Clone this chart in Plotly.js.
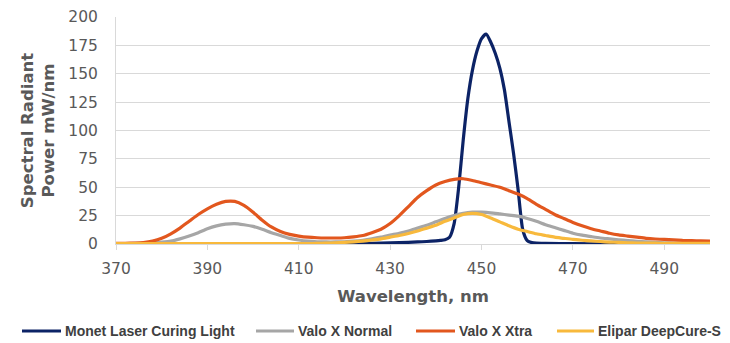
<!DOCTYPE html>
<html>
<head>
<meta charset="utf-8">
<script src="https://cdn.plot.ly/plotly-3.0.1.min.js"></script>
<style>html,body{margin:0;padding:0;background:#fff;}#chart{width:730px;height:343px;}</style>
</head>
<body>
<div id="chart"></div>
<script>
// Wavelength grid (nm) for the broad-band lights
const wavelength = [370,372,374,376,378,380,382,384,386,388,390,392,394,396,398,400,402,404,406,408,410,412,414,416,418,420,422,424,426,428,430,432,434,436,438,440,442,444,446,448,450,452,454,456,458,460,462,464,466,468,470,472,474,476,478,480,482,484,486,488,490,492,494,496,498,500];

const valoXtra = [0.5,0.6,0.8,1.2,2.5,5,9,14,20,26,31,35,37.5,37.5,34,28,21,15,11,8.5,7,6,5.5,5.3,5.3,5.5,6.3,7.5,10,13,18,25,33,41,47,52,55,57,57.5,56,54,52,50,47,44,40,35,30.5,26,22.5,19,16,13.5,11.5,9.5,8,7,6,5,4.4,4,3.6,3.2,3,2.7,2.5];

const valoNormal = [0.3,0.4,0.5,0.7,1,1.6,2.5,4.5,7,10,13.5,16,17.5,18,17,15.5,13,10,7.5,5,3.5,2.5,2,1.8,1.8,2,2.5,3.3,4.5,6,7.8,9.5,11.5,14,16.5,19.5,22.5,25,27,28,28,27.5,26.5,25.5,24.5,22.5,20,17,14.5,12,9.5,7.8,6.5,5.3,4.5,3.7,3,2.4,1.8,1.4,1.1,0.9,0.7,0.6,0.5,0.4];

const eliparDeepCure = [0.3,0.3,0.3,0.3,0.3,0.3,0.3,0.3,0.3,0.3,0.3,0.3,0.3,0.3,0.3,0.3,0.3,0.3,0.3,0.3,0.3,0.4,0.5,0.7,1,1.4,1.9,2.6,3.5,4.5,6,7.5,9.3,11.5,14,16.5,20,23,26,27,26,23,19.5,16,13,11,9,7.5,6,5,4,3.3,2.7,2.2,1.7,1.4,1.1,0.9,0.8,0.7,0.6,0.6,0.6,0.6,0.6,0.6];

// Narrow-band laser light, sampled finely around its peak
const monetWavelength = [370,380,390,400,410,420,424,428,432,436,438,440,441,442,443,444,445,446,447,448,449,450,451,452,453,454,455,456,457,458,459,460,461,462,464,470,480,490,500];
const monetLaser = [0.2,0.2,0.2,0.2,0.2,0.3,0.5,0.8,1.2,1.8,2.2,2.8,3.2,3.8,6,18,50,92,128,153,170,181,185,178,168,155,136,108,80,48,13,3,1.2,0.7,0.5,0.3,0.2,0.2,0.2];

const seriesNames = ["Monet Laser Curing Light","Valo X Normal","Valo X Xtra","Elipar DeepCure-S"];
const seriesColors = ["#0c2366","#a6a6a6","#e2571e","#f8b93c"];

const xTicks = [370,390,410,430,450,470,490];
const yTicks = [0,25,50,75,100,125,150,175,200];

const traces = [
  {x: monetWavelength, y: monetLaser, name: seriesNames[0], color: seriesColors[0]},
  {x: wavelength, y: valoNormal, name: seriesNames[1], color: seriesColors[1]},
  {x: wavelength, y: valoXtra, name: seriesNames[2], color: seriesColors[2]},
  {x: wavelength, y: eliparDeepCure, name: seriesNames[3], color: seriesColors[3]}
].map(s => ({
  type: 'scatter', mode: 'lines', x: s.x, y: s.y, name: s.name,
  line: {color: s.color, width: 3.2, shape: 'spline', smoothing: 0.6},
  cliponaxis: true, showlegend: false
}));

// Plot-area geometry (px) used to place the custom legend row below the axis
const W = 730, H = 343, M = {l: 116, r: 20, t: 17, b: 99};
const plotW = W - M.l - M.r, plotH = H - M.t - M.b;
const px2x = px => (px - M.l) / plotW;
const py2y = py => (H - M.b - py) / plotH;
const legendY = 331;
const legendKeys = [[22, 61], [256, 294], [416, 455], [557, 594]];

const legendShapes = seriesNames.map((n, i) => ({
  type: 'line', xref: 'paper', yref: 'paper',
  x0: px2x(legendKeys[i][0]), x1: px2x(legendKeys[i][1]),
  y0: py2y(legendY), y1: py2y(legendY),
  line: {color: seriesColors[i], width: 3.2}
}));
const legendLabels = seriesNames.map((n, i) => ({
  text: n, xref: 'paper', yref: 'paper', showarrow: false,
  x: px2x(legendKeys[i][1] + 2), y: py2y(legendY),
  xanchor: 'left', yanchor: 'middle',
  font: {family: '"Liberation Sans", Arial, sans-serif', size: 14, color: '#404040', weight: 'bold'}
}));

const tickFont = {family: '"DejaVu Sans", sans-serif', size: 15.5, color: '#595959'};
const titleFont = {family: '"DejaVu Sans", sans-serif', size: 16.5, color: '#595959', weight: 'bold'};

const layout = {
  width: W, height: H,
  margin: {l: M.l, r: M.r, t: M.t, b: M.b, pad: 0, autoexpand: false},
  paper_bgcolor: '#ffffff', plot_bgcolor: '#ffffff',
  showlegend: false,
  shapes: legendShapes,
  annotations: legendLabels,
  xaxis: {
    range: [370, 500], tickvals: xTicks, ticktext: xTicks.map(String),
    showgrid: false, zeroline: false,
    showline: true, linecolor: '#d9d9d9', linewidth: 1,
    ticks: 'outside', ticklen: 5, tickcolor: '#d9d9d9',
    tickfont: tickFont, ticklabelstandoff: 5,
    title: {text: 'Wavelength, nm', font: titleFont, standoff: 13}
  },
  yaxis: {
    range: [0, 200], tickvals: yTicks, ticktext: yTicks.map(String),
    showgrid: true, gridcolor: '#d9d9d9', gridwidth: 1,
    zeroline: false, showline: true, linecolor: '#d9d9d9', linewidth: 1,
    ticks: '', tickfont: tickFont, ticklabelstandoff: 14,
    title: {text: 'Spectral Radiant<br>Power mW/nm', font: titleFont, standoff: 9}
  }
};

Plotly.newPlot('chart', traces, layout, {displayModeBar: false, staticPlot: true});
</script>
</body>
</html>
